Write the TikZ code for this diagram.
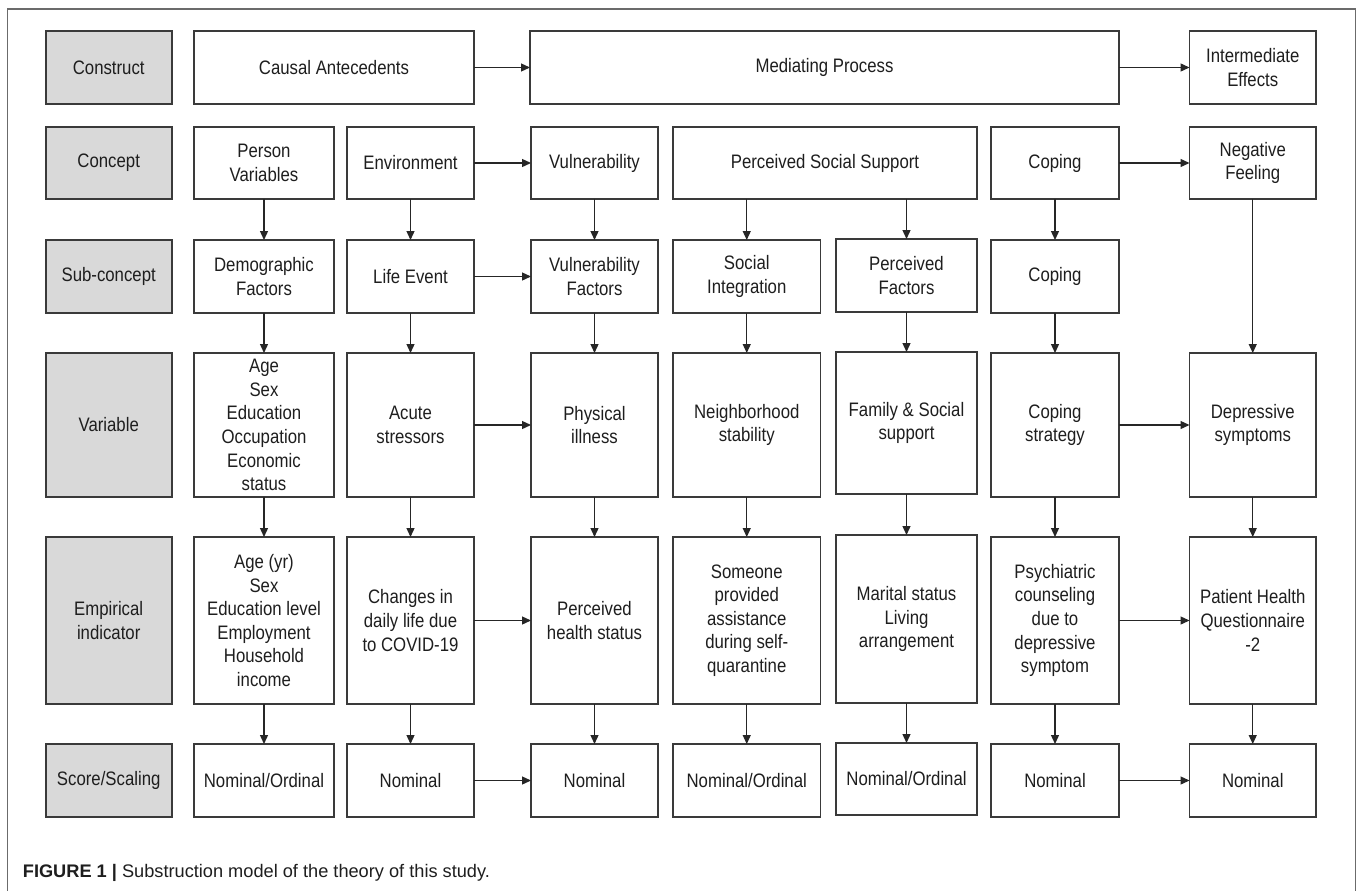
\documentclass[tikz,border=0pt]{standalone}
\usepackage{fontspec}
\setmainfont[FakeStretch=0.86]{Liberation Sans}
\newfontfamily\capfont{Liberation Sans}
\usetikzlibrary{arrows.meta}
\definecolor{boxline}{HTML}{3A3A3A}
\definecolor{grayfill}{HTML}{D9D9D9}
\definecolor{framec}{HTML}{6B6B6B}
\definecolor{txt}{HTML}{1E1E1E}
\begin{document}
\begin{tikzpicture}[x=1pt,y=-1pt,
 box/.style={draw=boxline, line width=1.6pt, fill=white, inner sep=0pt, outer sep=0pt, align=center, text=txt, font=\fontsize{19.5}{23.6}\selectfont},
 hdr/.style={box, fill=grayfill},
 conn/.style={draw=black!85, line width=1.3pt, -{Triangle[length=9pt,width=8pt]}},
 c1/.style={minimum width=140pt}, c2/.style={minimum width=127pt}, c3/.style={minimum width=127pt},
 c4/.style={minimum width=147.5pt}, c5/.style={minimum width=141pt}, c6/.style={minimum width=128pt},
 c7/.style={minimum width=126.5pt}, cg/.style={minimum width=126pt},
 r1/.style={minimum height=73pt}, r2/.style={minimum height=72pt}, r3/.style={minimum height=73pt},
 r4/.style={minimum height=144pt}, r5/.style={minimum height=167pt}, r6/.style={minimum height=73pt},
]
\fill[white] (0,0) rectangle (1358,891);
\useasboundingbox (0,0) rectangle (1358,891);
\draw[framec, line width=1.5pt] (7.5,891) -- (7.5,9) -- (1355.5,9) -- (1355.5,891);

% header column
\node[hdr,cg,r1] (h1) at (108.7,67.5) {Construct};
\node[hdr,cg,r2] (h2) at (108.7,163) {Concept};
\node[hdr,cg,r3] (h3) at (108.7,276.5) {Sub-concept};
\node[hdr,cg,r4] (h4) at (108.7,425) {Variable};
\node[hdr,cg,r5] (h5) at (108.7,620.5) {Empirical\\indicator};
\node[hdr,cg,r6] (h6) at (108.7,780.5) {Score/Scaling};

% construct
\node[box,r1,minimum width=280pt] (ca) at (334,67.5) {Causal Antecedents};
\node[box,r1,minimum width=589pt] (mp) at (824.5,67.5) {Mediating Process};
\node[box,r1,c7] (ie) at (1252.75,67.5) {Intermediate\\Effects};

% concept
\node[box,r2,c1] (pv) at (264,163) {Person\\Variables};
\node[box,r2,c2] (en) at (410.5,163) {Environment};
\node[box,r2,c3] (vu) at (594.5,163) {Vulnerability};
\node[box,r2,minimum width=304pt] (pss) at (825,163) {Perceived Social Support};
\node[box,r2,c6] (cp) at (1055,163) {Coping};
\node[box,r2,c7] (nf) at (1252.75,163) {Negative\\Feeling};

% sub-concept
\node[box,r3,c1] (df) at (264,276.5) {Demographic\\Factors};
\node[box,r3,c2] (le) at (410.5,276.5) {Life Event};
\node[box,r3,c3] (vf) at (594.5,276.5) {Vulnerability\\Factors};
\node[box,r3,c4] (si) at (746.75,276.5) {Social\\Integration};
\node[box,r3,c5] (pf) at (906.5,275.5) {Perceived\\Factors};
\node[box,r3,c6] (cs) at (1055,276.5) {Coping};

% variable
\node[box,r4,c1] (v1) at (264,425) {Age\\Sex\\Education\\Occupation\\Economic\\status};
\node[box,r4,c2] (v2) at (410.5,425) {Acute\\stressors};
\node[box,r4,c3] (v3) at (594.5,425) {Physical\\illness};
\node[box,r4,c4] (v4) at (746.75,425) {Neighborhood\\stability};
\node[box,c5,minimum height=142pt] (v5) at (906.5,423) {Family \& Social\\support};
\node[box,r4,c6] (v6) at (1055,425) {Coping\\strategy};
\node[box,r4,c7] (v7) at (1252.75,425) {Depressive\\symptoms};

% empirical indicator
\node[box,r5,c1] (e1) at (264,620.5) {Age (yr)\\Sex\\Education level\\Employment\\Household\\income};
\node[box,r5,c2] (e2) at (410.5,620.5) {Changes in\\daily life due\\to COVID-19};
\node[box,r5,c3] (e3) at (594.5,620.5) {Perceived\\health status};
\node[box,r5,c4] (e4) at (746.75,620.5) {Someone\\provided\\assistance\\during self-\\quarantine};
\node[box,c5,minimum height=168pt] (e5) at (906.5,619) {Marital status\\Living\\arrangement};
\node[box,r5,c6] (e6) at (1055,620.5) {Psychiatric\\counseling\\due to\\depressive\\symptom};
\node[box,r5,c7] (e7) at (1252.75,620.5) {Patient Health\\Questionnaire\\-2};

% score
\node[box,r6,c1] (s1) at (264,780.5) {Nominal/Ordinal};
\node[box,r6,c2] (s2) at (410.5,780.5) {Nominal};
\node[box,r6,c3] (s3) at (594.5,780.5) {Nominal};
\node[box,r6,c4] (s4) at (746.75,780.5) {Nominal/Ordinal};
\node[box,c5,minimum height=72pt] (s5) at (906.5,779) {Nominal/Ordinal};
\node[box,r6,c6] (s6) at (1055,780.5) {Nominal};
\node[box,r6,c7] (s7) at (1252.75,780.5) {Nominal};

% horizontal connectors
\draw[conn] (ca.east) -- (mp.west);
\draw[conn] (mp.east) -- (ie.west);
\draw[conn] (en.east) -- (vu.west);
\draw[conn] (cp.east) -- (nf.west);
\draw[conn] (le.east) -- (vf.west);
\draw[conn] (v2.east) -- (v3.west);
\draw[conn] (v6.east) -- (v7.west);
\draw[conn] (e2.east) -- (e3.west);
\draw[conn] (e6.east) -- (e7.west);
\draw[conn] (s2.east) -- (s3.west);
\draw[conn] (s6.east) -- (s7.west);

% vertical connectors
\foreach \a/\b in {pv/df,df/v1,v1/e1,e1/s1,
                   en/le,le/v2,v2/e2,e2/s2,
                   vu/vf,vf/v3,v3/e3,e3/s3,
                   si/v4,v4/e4,e4/s4,
                   pf/v5,v5/e5,e5/s5,
                   cp/cs,cs/v6,v6/e6,e6/s6,
                   nf/v7,v7/e7,e7/s7}
  \draw[conn] (\a.south) -- (\b.north);
\draw[conn] (pss.south -| si.north) -- (si.north);
\draw[conn] (pss.south -| pf.north) -- (pf.north);

% caption
\node[anchor=base west, inner sep=0pt, text=txt, font=\capfont\fontsize{18.2}{22}\selectfont] (cap) at (22.7,877)
  {\textbf{FIGURE 1} \textbf{|} Substruction model of the theory of this study.};
\end{tikzpicture}
\end{document}
